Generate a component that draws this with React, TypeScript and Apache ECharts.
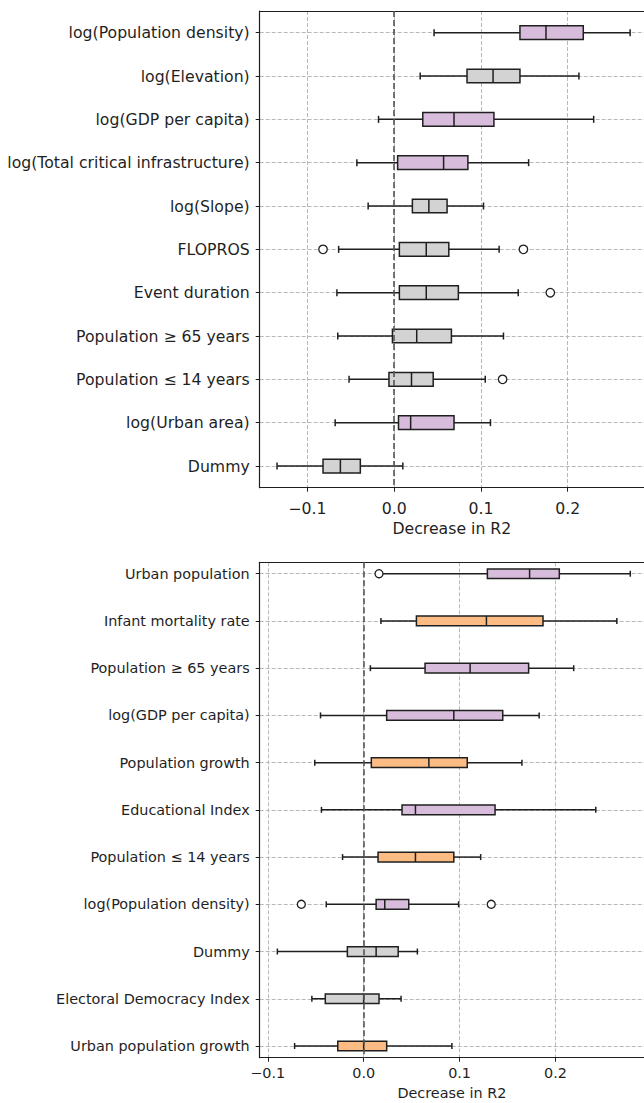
import React, { useEffect, useRef } from "react";
import * as echarts from "echarts";

// ---------- Top panel data ----------
const topCategories = [
  "log(Population density)",
  "log(Elevation)",
  "log(GDP per capita)",
  "log(Total critical infrastructure)",
  "log(Slope)",
  "FLOPROS",
  "Event duration",
  "Population ≥ 65 years",
  "Population ≤ 14 years",
  "log(Urban area)",
  "Dummy",
];
const topLow = [0.046, 0.030, -0.018, -0.043, -0.030, -0.064, -0.066, -0.065, -0.052, -0.068, -0.135];
const topQ1 = [0.145, 0.084, 0.033, 0.004, 0.021, 0.006, 0.006, -0.002, -0.006, 0.005, -0.082];
const topMedian = [0.175, 0.114, 0.069, 0.057, 0.040, 0.037, 0.037, 0.026, 0.020, 0.019, -0.062];
const topQ3 = [0.218, 0.145, 0.115, 0.085, 0.061, 0.063, 0.074, 0.066, 0.045, 0.069, -0.039];
const topHigh = [0.272, 0.213, 0.230, 0.155, 0.103, 0.121, 0.143, 0.126, 0.105, 0.111, 0.010];
const topGroups = ["purple", "grey", "purple", "purple", "grey", "grey", "grey", "grey", "grey", "purple", "grey"];
const topOutliers: [string, number][] = [
  ["FLOPROS", -0.082],
  ["FLOPROS", 0.149],
  ["Event duration", 0.180],
  ["Population ≤ 14 years", 0.125],
];

// ---------- Bottom panel data ----------
const bottomCategories = [
  "Urban population",
  "Infant mortality rate",
  "Population ≥ 65 years",
  "log(GDP per capita)",
  "Population growth",
  "Educational Index",
  "Population ≤ 14 years",
  "log(Population density)",
  "Dummy",
  "Electoral Democracy Index",
  "Urban population growth",
];
const bottomLow = [0.017, 0.018, 0.007, -0.045, -0.051, -0.044, -0.022, -0.039, -0.090, -0.054, -0.072];
const bottomQ1 = [0.129, 0.055, 0.064, 0.024, 0.008, 0.040, 0.015, 0.013, -0.017, -0.040, -0.027];
const bottomMedian = [0.173, 0.128, 0.111, 0.094, 0.068, 0.054, 0.054, 0.022, 0.013, 0.000, 0.000];
const bottomQ3 = [0.204, 0.187, 0.172, 0.145, 0.108, 0.137, 0.094, 0.047, 0.036, 0.016, 0.024];
const bottomHigh = [0.278, 0.264, 0.219, 0.183, 0.165, 0.242, 0.122, 0.099, 0.056, 0.039, 0.092];
const bottomGroups = ["purple", "orange", "purple", "purple", "orange", "purple", "orange", "purple", "grey", "grey", "orange"];
const bottomOutliers: [string, number][] = [
  ["Urban population", 0.016],
  ["log(Population density)", -0.065],
  ["log(Population density)", 0.133],
];

const xTicks = [-0.1, 0, 0.1, 0.2];
const xLabel = "Decrease in R2";

const groupColors: Record<string, string> = {
  purple: "#D8BCDC",
  grey: "#D3D3D3",
  orange: "#FDBC84",
};

const FONT = "DejaVu Sans";
const INK = "#1f1f1f";

function fmtTick(v: number) {
  const s = Math.abs(v).toFixed(1);
  return v < -1e-9 ? "\u2212" + s : s;
}

function buildRows(low: number[], q1: number[], med: number[], q3: number[], high: number[]) {
  return low.map((_, i) => [i + 1, low[i], q1[i], med[i], q3[i], high[i]]);
}

function makeRenderItem(groups: string[], boxH: number, capH: number) {
  return (params: any, api: any) => {
    const y = api.value(0);
    const pLow = api.coord([api.value(1), y]);
    const pQ1 = api.coord([api.value(2), y]);
    const pMed = api.coord([api.value(3), y]);
    const pQ3 = api.coord([api.value(4), y]);
    const pHigh = api.coord([api.value(5), y]);
    const cy = pMed[1];
    const lineStyle = { stroke: INK, lineWidth: 1.5 };
    const fill = groupColors[groups[params.dataIndex]];
    return {
      type: "group",
      children: [
        { type: "line", shape: { x1: pLow[0], y1: cy, x2: pQ1[0], y2: cy }, style: lineStyle },
        { type: "line", shape: { x1: pQ3[0], y1: cy, x2: pHigh[0], y2: cy }, style: lineStyle },
        { type: "line", shape: { x1: pLow[0], y1: cy - capH / 2, x2: pLow[0], y2: cy + capH / 2 }, style: lineStyle },
        { type: "line", shape: { x1: pHigh[0], y1: cy - capH / 2, x2: pHigh[0], y2: cy + capH / 2 }, style: lineStyle },
        {
          type: "rect",
          shape: { x: pQ1[0], y: cy - boxH / 2, width: pQ3[0] - pQ1[0], height: boxH },
          style: { fill, stroke: INK, lineWidth: 1.5 },
        },
        { type: "line", shape: { x1: pMed[0], y1: cy - boxH / 2, x2: pMed[0], y2: cy + boxH / 2 }, style: lineStyle },
      ],
    };
  };
}

function panelAxes(
  gridIndex: number,
  categories: string[],
  xMin: number,
  xMax: number,
  yMin: number,
  yMax: number,
  fontSize: number,
  labelMargin: number,
  nameGap: number
) {
  const rowTicks = categories.map((_, i) => i + 1);
  const split = { show: true, lineStyle: { color: "#b0b0b0", type: [4, 2], width: 0.9 } };
  const xs = [
    {
      type: "value",
      gridIndex,
      position: "bottom",
      min: xMin,
      max: xMax,
      axisLine: { show: true, onZero: false, lineStyle: { color: INK, width: 1.2 } },
      axisTick: { show: true, length: 4, customValues: xTicks, lineStyle: { color: INK, width: 1 } },
      axisLabel: {
        show: true,
        customValues: xTicks,
        formatter: (v: number) => fmtTick(v),
        fontFamily: FONT,
        fontSize,
        color: INK,
        margin: labelMargin,
      },
      splitLine: split,
      name: xLabel,
      nameLocation: "middle",
      nameGap,
      nameTextStyle: { fontFamily: FONT, fontSize, color: INK },
    },
    {
      type: "value",
      gridIndex,
      position: "top",
      min: xMin,
      max: xMax,
      axisLine: { show: true, onZero: false, lineStyle: { color: INK, width: 1.2 } },
      axisTick: { show: false },
      axisLabel: { show: false },
      splitLine: { show: false },
    },
  ];
  const ys = [
    {
      type: "value",
      gridIndex,
      inverse: true,
      min: yMin,
      max: yMax,
      axisLine: { show: true, onZero: false, lineStyle: { color: INK, width: 1.2 } },
      axisTick: { show: true, length: 4, customValues: rowTicks, lineStyle: { color: INK, width: 1 } },
      axisLabel: {
        show: true,
        customValues: rowTicks,
        formatter: (v: number) => categories[Math.round(v) - 1] ?? "",
        fontFamily: FONT,
        fontSize,
        color: INK,
        margin: 10,
      },
      splitLine: split,
    },
  ];
  return { xs, ys };
}

export default function App() {
  const ref = useRef<HTMLDivElement>(null);

  useEffect(() => {
    if (!ref.current) return;
    const chart = echarts.init(ref.current, undefined, { renderer: "svg" });

    const top = panelAxes(0, topCategories, -0.155, 0.288, 0.5, 11.5, 15.7, 13, 33);
    const bottom = panelAxes(1, bottomCategories, -0.1084, 0.2923, 0.758, 11.248, 14.4, 8, 28);

    const outlierPoints = (cats: string[], outs: [string, number][]) =>
      outs.map(([c, v]) => [v, cats.indexOf(c) + 1]);

    const zeroLine = {
      silent: true,
      symbol: "none",
      label: { show: false },
      lineStyle: { type: [6, 3], color: "#555555", width: 1.6 },
      data: [{ xAxis: 0 }],
    };

    const option: any = {
      animation: false,
      backgroundColor: "#ffffff",
      grid: [
        { left: 259.7, top: 11, right: 0, height: 476.7, outerBoundsMode: "none" },
        { left: 259.7, top: 562.3, right: 0, height: 495.4, outerBoundsMode: "none" },
      ],
      xAxis: [...top.xs, ...bottom.xs],
      yAxis: [...top.ys, ...bottom.ys],
      series: [
        {
          type: "custom",
          xAxisIndex: 0,
          yAxisIndex: 0,
          renderItem: makeRenderItem(topGroups, 13.7, 7),
          encode: { x: [1, 2, 3, 4, 5], y: 0 },
          data: buildRows(topLow, topQ1, topMedian, topQ3, topHigh),
          z: 3,
        },
        {
          type: "scatter",
          xAxisIndex: 0,
          yAxisIndex: 0,
          symbol: "circle",
          symbolSize: 8.5,
          itemStyle: { color: "#ffffff", borderColor: INK, borderWidth: 1.3, opacity: 1 },
          data: outlierPoints(topCategories, topOutliers),
          markLine: zeroLine,
          z: 4,
        },
        {
          type: "custom",
          xAxisIndex: 2,
          yAxisIndex: 1,
          renderItem: makeRenderItem(bottomGroups, 9.7, 6),
          encode: { x: [1, 2, 3, 4, 5], y: 0 },
          data: buildRows(bottomLow, bottomQ1, bottomMedian, bottomQ3, bottomHigh),
          z: 3,
        },
        {
          type: "scatter",
          xAxisIndex: 2,
          yAxisIndex: 1,
          symbol: "circle",
          symbolSize: 8,
          itemStyle: { color: "#ffffff", borderColor: INK, borderWidth: 1.3, opacity: 1 },
          data: outlierPoints(bottomCategories, bottomOutliers),
          markLine: zeroLine,
          z: 4,
        },
      ],
    };

    chart.setOption(option);
    return () => chart.dispose();
  }, []);

  return (
    <div
      ref={ref}
      style={{ position: "absolute", left: 0, top: 0, width: 644, height: 1103, background: "#fff" }}
    />
  );
}
